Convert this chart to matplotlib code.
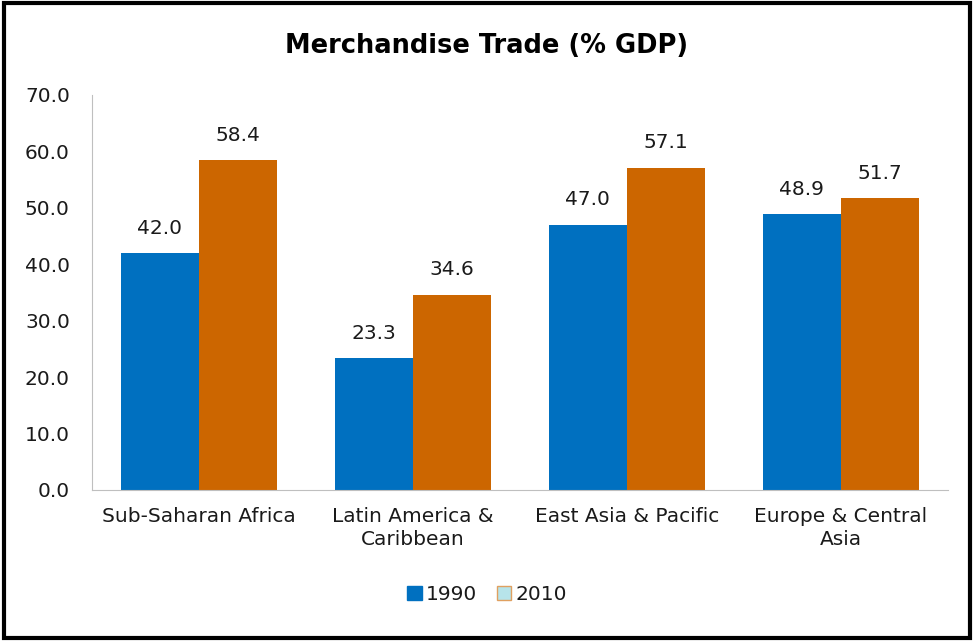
import matplotlib.pyplot as plt
import numpy as np
from matplotlib.patches import Patch, Rectangle

categories = ['Sub-Saharan Africa', 'Latin America &\nCaribbean', 'East Asia & Pacific', 'Europe & Central\nAsia']
values_1990 = [42.0, 23.3, 47.0, 48.9]
values_2010 = [58.4, 34.6, 57.1, 51.7]

blue = '#0070C0'
orange = '#CC6600'

plt.rcParams['font.family'] = ['DejaVu Sans']

fig = plt.figure(figsize=(9.74, 6.41), dpi=100)
ax = fig.add_axes([0.0945, 0.2356, 0.8785, 0.6164])

x = np.arange(len(categories))
w = 0.365
b1 = ax.bar(x - w / 2, values_1990, w, color=blue, label='1990')
b2 = ax.bar(x + w / 2, values_2010, w, color=orange, label='2010')
for bars in (b1, b2):
    ax.bar_label(bars, labels=[f'{v:.1f}' for v in bars.datavalues], padding=11, fontsize=14.5, color='#1a1a1a')

ax.set_xlim(-0.5, 3.5)
ax.set_ylim(0, 70)
ax.set_yticks(np.arange(0, 71, 10))
ax.set_yticklabels([f'{v:.1f}' for v in np.arange(0, 71, 10)])
ax.set_xticks(x)
ax.set_xticklabels(categories, linespacing=1.3)
ax.tick_params(axis='both', length=0, labelsize=14.5, colors='#1a1a1a')
ax.tick_params(axis='y', pad=16)
ax.tick_params(axis='x', pad=12)
for s in ('top', 'right'):
    ax.spines[s].set_visible(False)
ax.spines['left'].set_color('#BFBFBF')
ax.spines['bottom'].set_color('#BFBFBF')

fig.text(0.5, 0.928, 'Merchandise Trade (% GDP)', ha='center', va='center', fontsize=18.5, fontweight='bold')

handles = [Patch(facecolor=blue, edgecolor=blue), Patch(facecolor='#B7E4EA', edgecolor='#E0A060')]
fig.legend(handles, ['1990', '2010'], loc='center', bbox_to_anchor=(0.5, 0.072), ncol=2, frameon=False,
           fontsize=14.5, handlelength=0.7, handleheight=0.7, handletextpad=0.2, columnspacing=1.0,
           labelcolor='#1a1a1a')

fig.patches.append(Rectangle((0.004, 0.005), 0.992, 0.99, transform=fig.transFigure, fill=False,
                             edgecolor='black', linewidth=3))

plt.savefig('out.png', dpi=100)
